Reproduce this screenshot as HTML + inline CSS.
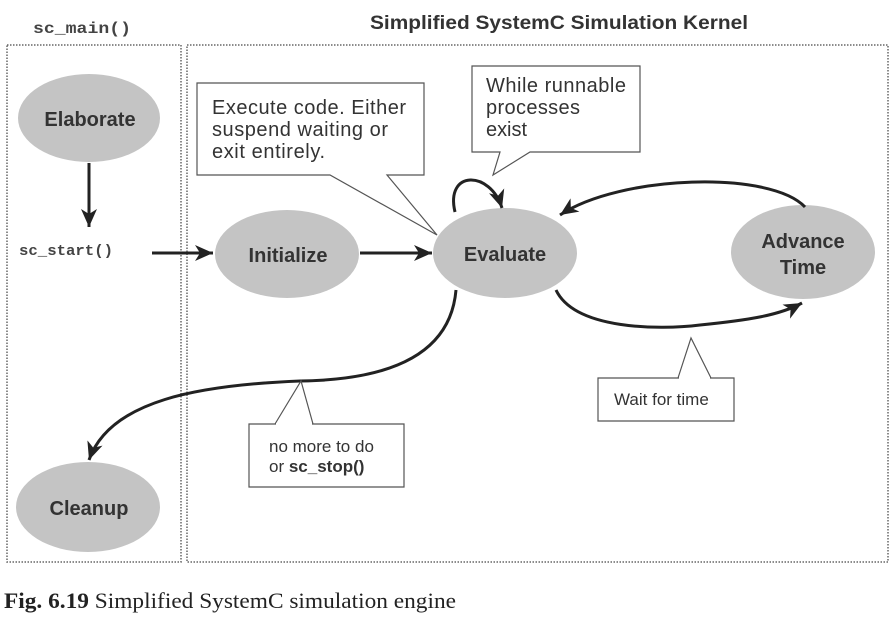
<!DOCTYPE html>
<html><head><meta charset="utf-8"><style>
body{margin:0;background:#fff;}
svg{display:block}
</style></head><body>
<svg width="893" height="617" viewBox="0 0 893 617" xmlns="http://www.w3.org/2000/svg">
<defs>
<marker id="ah2" markerWidth="20" markerHeight="16" refX="18" refY="8" orient="auto" markerUnits="userSpaceOnUse">
<path d="M0,0 L18,8 L0,16 L5,8 z" fill="#222"/>
</marker>
</defs>
<g fill="none" stroke="#666" stroke-width="1.5" stroke-dasharray="1.5,1.5">
<rect x="7" y="45" width="174" height="517"/>
<rect x="187" y="45" width="701" height="517"/>
</g>
<text x="33" y="33" font-family="Liberation Mono, monospace" font-weight="bold" font-size="16" fill="#444" textLength="98" lengthAdjust="spacingAndGlyphs">sc_main()</text>
<text x="370" y="29" font-family="Liberation Sans, sans-serif" font-weight="bold" font-size="19" fill="#333" textLength="378" lengthAdjust="spacingAndGlyphs">Simplified SystemC Simulation Kernel</text>
<g fill="#c4c4c4">
<ellipse cx="89" cy="118" rx="71" ry="44"/>
<ellipse cx="287" cy="254" rx="72" ry="44"/>
<ellipse cx="505" cy="253" rx="72" ry="45"/>
<ellipse cx="803" cy="252" rx="72" ry="47"/>
<ellipse cx="88" cy="507" rx="72" ry="45"/>
</g>
<g font-family="Liberation Sans, sans-serif" font-weight="bold" font-size="20" fill="#333" text-anchor="middle">
<text x="90" y="126">Elaborate</text>
<text x="288" y="262">Initialize</text>
<text x="505" y="261">Evaluate</text>
<text x="803" y="248">Advance</text>
<text x="803" y="274">Time</text>
<text x="89" y="515">Cleanup</text>
</g>
<text x="19" y="255" font-family="Liberation Mono, monospace" font-weight="bold" font-size="15" fill="#444" textLength="94" lengthAdjust="spacingAndGlyphs">sc_start()</text>
<g stroke="#222" stroke-width="3" fill="none">
<line x1="89" y1="163" x2="89" y2="227" marker-end="url(#ah2)"/>
<line x1="152" y1="253" x2="213" y2="253" marker-end="url(#ah2)"/>
<line x1="360" y1="253" x2="432" y2="253" marker-end="url(#ah2)"/>
<path d="M455,212 C445,170 490,170 502,208" marker-end="url(#ah2)"/>
<path d="M805,207 C770,170 620,175 560,215" marker-end="url(#ah2)"/>
<path d="M556,290 C575,330 660,330 700,325 C750,320 780,315 802,303" marker-end="url(#ah2)"/>
<path d="M456,290 C450,360 380,380 300,381 C200,385 110,400 89,460" marker-end="url(#ah2)"/>
</g>
<g fill="#fff" stroke="#555" stroke-width="1.2">
<path d="M197,83 H424 V175 H387 L437,235 L330,175 H197 Z"/>
<path d="M472,66 H640 V152 H530 L493,175 L500,152 H472 Z"/>
<path d="M598,378 H734 V421 H598 Z M678,378 L691,338 L711,378"/>
<path d="M249,424 H404 V487 H249 Z M275,424 L301,381 L313,424"/>
</g>
<line x1="679" y1="378" x2="710" y2="378" stroke="#fff" stroke-width="2"/>
<line x1="276" y1="424" x2="312" y2="424" stroke="#fff" stroke-width="2"/>
<g font-family="Liberation Sans, sans-serif" font-size="20" fill="#333" lengthAdjust="spacingAndGlyphs">
<text x="212" y="114" textLength="194">Execute code. Either</text>
<text x="212" y="136" textLength="176">suspend waiting or</text>
<text x="212" y="158" textLength="113">exit entirely.</text>
<text x="486" y="92" textLength="140">While runnable</text>
<text x="486" y="114" textLength="94">processes</text>
<text x="486" y="136" textLength="41">exist</text>
</g>
<g font-family="Liberation Sans, sans-serif" font-size="17" fill="#333">
<text x="614" y="405">Wait for time</text>
<text x="269" y="452">no more to do</text>
<text x="269" y="472">or <tspan font-weight="bold">sc_stop()</tspan></text>
</g>
<text x="4" y="608" font-family="Liberation Serif, serif" font-size="22" fill="#222" textLength="452" lengthAdjust="spacingAndGlyphs"><tspan font-weight="bold">Fig. 6.19</tspan>  Simplified SystemC simulation engine</text>
</svg>
</body></html>
